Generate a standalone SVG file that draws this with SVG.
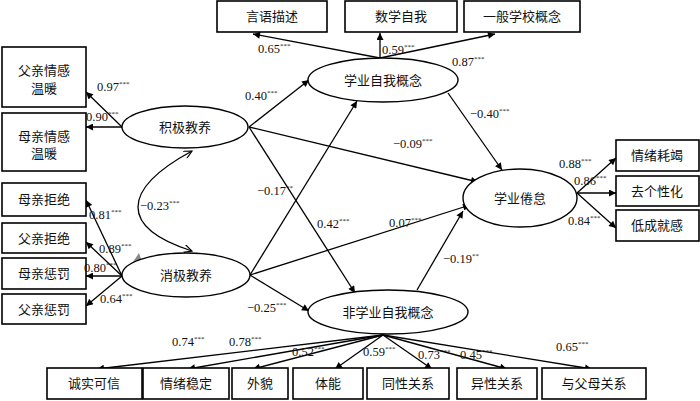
<svg xmlns="http://www.w3.org/2000/svg" width="700" height="401" viewBox="0 0 700 401">
<style>
.b{fill:#fff;stroke:#000;stroke-width:1.6}
.e{fill:#fff;stroke:#000;stroke-width:1.4}
.t{font-family:"Liberation Serif","Noto Sans CJK SC",serif;font-size:13px;text-anchor:middle;fill:#111}
.n{font-family:"Liberation Serif",serif;font-size:12.5px;fill:#111}
.s{font-size:7px}
.c line,.c path{stroke:#000;stroke-width:1.3;fill:none}
.c line{marker-end:url(#a)}
</style>
<defs>
<marker id="a" viewBox="0 0 10 10" refX="10" refY="5" markerWidth="10" markerHeight="7" orient="auto" markerUnits="userSpaceOnUse"><path d="M0,0 L10,5 L0,10 z" fill="#000"/></marker>
<marker id="o" viewBox="0 0 10 10" refX="10" refY="5" markerWidth="10" markerHeight="8" orient="auto-start-reverse" markerUnits="userSpaceOnUse"><path d="M0,0 L10,5 L0,10" fill="none" stroke="#000" stroke-width="1.4"/></marker>
</defs>
<rect width="700" height="401" fill="#fff"/>

<g class="c">
<line x1="122" y1="127" x2="86" y2="92"/>
<line x1="122" y1="127" x2="86" y2="127"/>
<line x1="122" y1="276" x2="86" y2="200"/>
<line x1="122" y1="276" x2="86" y2="242"/>
<line x1="122" y1="276" x2="86" y2="276"/>
<line x1="122" y1="276" x2="86" y2="306"/>
<path d="M192,251 C120,228 120,190 192,151" marker-start="url(#o)" marker-end="url(#o)"/>
<line x1="249" y1="127" x2="309" y2="80"/>
<line x1="249" y1="127" x2="478" y2="182"/>
<line x1="249" y1="127" x2="355" y2="293"/>
<line x1="250" y1="275" x2="357" y2="101"/>
<line x1="250" y1="275" x2="470" y2="205"/>
<line x1="250" y1="275" x2="309" y2="311"/>
<line x1="380" y1="58" x2="253" y2="34"/>
<line x1="380" y1="58" x2="380" y2="33"/>
<line x1="380" y1="58" x2="495" y2="34"/>
<line x1="448" y1="93" x2="502" y2="170"/>
<line x1="417" y1="290" x2="463" y2="211"/>
<line x1="577" y1="193" x2="616" y2="158"/>
<line x1="577" y1="193" x2="616" y2="193"/>
<line x1="577" y1="193" x2="616" y2="228"/>
<line x1="383" y1="335" x2="97" y2="369"/>
<line x1="383" y1="335" x2="188" y2="369"/>
<line x1="383" y1="335" x2="253" y2="369"/>
<line x1="383" y1="335" x2="335" y2="369"/>
<line x1="383" y1="335" x2="432" y2="369"/>
<line x1="383" y1="335" x2="507" y2="369"/>
<line x1="383" y1="335" x2="592" y2="369"/>
</g>
<polygon points="133,262 142,262 139,253" fill="#888"/>

<g id="n-yanyu"><rect class="b" x="217" y="1" width="110" height="31"/><text class="t" x="272" y="21">言语描述</text></g>
<g id="n-shuxue"><rect class="b" x="345" y="1" width="112" height="31"/><text class="t" x="401" y="21">数学自我</text></g>
<g id="n-yiban"><rect class="b" x="464" y="1" width="116" height="31"/><text class="t" x="522" y="21">一般学校概念</text></g>

<g id="n-fuqing"><rect class="b" x="2" y="47" width="84" height="60"/><text class="t" x="44" y="75">父亲情感</text><text class="t" x="44" y="93">温暖</text></g>
<g id="n-muqing"><rect class="b" x="2" y="113" width="84" height="58"/><text class="t" x="44" y="141">母亲情感</text><text class="t" x="44" y="158">温暖</text></g>
<g id="n-mujj"><rect class="b" x="2" y="183" width="84" height="33"/><text class="t" x="44" y="204">母亲拒绝</text></g>
<g id="n-fujj"><rect class="b" x="2" y="223" width="84" height="30"/><text class="t" x="44" y="243">父亲拒绝</text></g>
<g id="n-mucf"><rect class="b" x="2" y="258" width="84" height="31"/><text class="t" x="44" y="278">母亲惩罚</text></g>
<g id="n-fucf"><rect class="b" x="2" y="294" width="84" height="30"/><text class="t" x="44" y="314">父亲惩罚</text></g>

<g id="n-jiji"><ellipse class="e" cx="185" cy="127" rx="63" ry="21"/><text class="t" x="185" y="132">积极教养</text></g>
<g id="n-xiaoji"><ellipse class="e" cx="186" cy="275" rx="64" ry="22"/><text class="t" x="186" y="280">消极教养</text></g>
<g id="n-xueye"><ellipse class="e" cx="383" cy="80" rx="75" ry="22"/><text class="t" x="383" y="85">学业自我概念</text></g>
<g id="n-feixueye"><ellipse class="e" cx="388" cy="312" rx="80" ry="22"/><text class="t" x="388" y="317">非学业自我概念</text></g>
<g id="n-juandai"><ellipse class="e" cx="520" cy="198" rx="57" ry="29"/><text class="t" x="520" y="203">学业倦怠</text></g>

<g id="n-qxhj"><rect class="b" x="616" y="140" width="83" height="31"/><text class="t" x="657" y="160">情绪耗竭</text></g>
<g id="n-qgxh"><rect class="b" x="616" y="176" width="83" height="30"/><text class="t" x="657" y="196">去个性化</text></g>
<g id="n-dcjg"><rect class="b" x="616" y="210" width="83" height="31"/><text class="t" x="657" y="230">低成就感</text></g>

<g id="n-cskx"><rect class="b" x="47" y="368" width="95" height="31"/><text class="t" x="94" y="388">诚实可信</text></g>
<g id="n-qxwd"><rect class="b" x="143" y="368" width="86" height="31"/><text class="t" x="186" y="388">情绪稳定</text></g>
<g id="n-wm"><rect class="b" x="232" y="368" width="56" height="31"/><text class="t" x="260" y="388">外貌</text></g>
<g id="n-tn"><rect class="b" x="293" y="368" width="70" height="31"/><text class="t" x="328" y="388">体能</text></g>
<g id="n-txgx"><rect class="b" x="367" y="368" width="82" height="31"/><text class="t" x="408" y="388">同性关系</text></g>
<g id="n-yxgx"><rect class="b" x="457" y="368" width="80" height="31"/><text class="t" x="497" y="388">异性关系</text></g>
<g id="n-yfmgx"><rect class="b" x="542" y="368" width="104" height="31"/><text class="t" x="594" y="388">与父母关系</text></g>

<g id="labels">
<text class="n" x="97" y="91">0.97<tspan class="s" dy="-5">***</tspan></text>
<text class="n" x="86" y="121">0.90<tspan class="s" dy="-5">***</tspan></text>
<text class="n" x="89" y="219">0.81<tspan class="s" dy="-5">***</tspan></text>
<text class="n" x="99" y="253">0.89<tspan class="s" dy="-5">***</tspan></text>
<text class="n" x="84" y="272">0.80<tspan class="s" dy="-5">***</tspan></text>
<text class="n" x="100" y="303">0.64<tspan class="s" dy="-5">***</tspan></text>
<text class="n" x="140" y="210">−0.23<tspan class="s" dy="-5">***</tspan></text>
<text class="n" x="258" y="53">0.65<tspan class="s" dy="-5">***</tspan></text>
<text class="n" x="382" y="54">0.59<tspan class="s" dy="-5">***</tspan></text>
<text class="n" x="452" y="66">0.87<tspan class="s" dy="-5">***</tspan></text>
<text class="n" x="245" y="100">0.40<tspan class="s" dy="-5">***</tspan></text>
<text class="n" x="393" y="148">−0.09<tspan class="s" dy="-5">***</tspan></text>
<text class="n" x="470" y="118">−0.40<tspan class="s" dy="-5">***</tspan></text>
<text class="n" x="257" y="195">−0.17<tspan class="s" dy="-5">**</tspan></text>
<text class="n" x="317" y="228">0.42<tspan class="s" dy="-5">***</tspan></text>
<text class="n" x="389" y="227">0.07<tspan class="s" dy="-5">***</tspan></text>
<text class="n" x="443" y="263">−0.19<tspan class="s" dy="-5">**</tspan></text>
<text class="n" x="247" y="312">−0.25<tspan class="s" dy="-5">***</tspan></text>
<text class="n" x="559" y="168">0.88<tspan class="s" dy="-5">***</tspan></text>
<text class="n" x="574" y="185">0.86<tspan class="s" dy="-5">***</tspan></text>
<text class="n" x="568" y="225">0.84<tspan class="s" dy="-5">***</tspan></text>
<text class="n" x="172" y="346">0.74<tspan class="s" dy="-5">***</tspan></text>
<text class="n" x="229" y="346">0.78<tspan class="s" dy="-5">***</tspan></text>
<text class="n" x="292" y="356">0.52<tspan class="s" dy="-5">***</tspan></text>
<text class="n" x="363" y="356">0.59<tspan class="s" dy="-5">***</tspan></text>
<text class="n" x="418" y="359">0.73<tspan class="s" dy="-5">***</tspan></text>
<text class="n" x="460" y="359">0.45<tspan class="s" dy="-5">***</tspan></text>
<text class="n" x="556" y="351">0.65<tspan class="s" dy="-5">***</tspan></text>
</g>
</svg>
